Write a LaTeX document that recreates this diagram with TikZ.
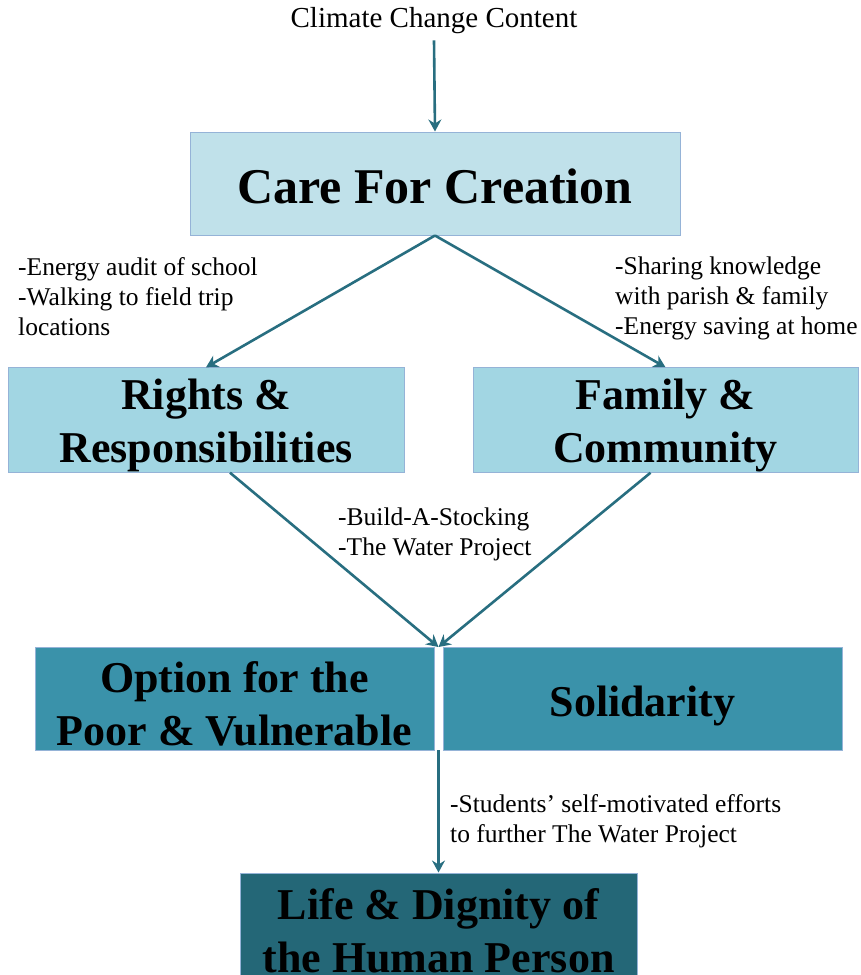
\documentclass[tikz,border=0pt]{standalone}
\usepackage{fontspec}
\setmainfont{Liberation Serif}
\usetikzlibrary{arrows.meta}

\definecolor{flowteal}{RGB}{40,110,128}
\definecolor{boxedge}{RGB}{149,179,215}
\definecolor{carefill}{RGB}{192,225,234}
\definecolor{rightsfill}{RGB}{162,214,227}
\definecolor{optionfill}{RGB}{58,146,170}
\definecolor{lifefill}{RGB}{36,103,119}

\begin{document}
\begin{tikzpicture}[x=1pt,y=-1pt,
    box/.style={draw=boxedge,line width=1pt,minimum width=#1,minimum height=103pt,
      align=center,inner sep=0pt,font=\fontsize{44}{53}\selectfont\bfseries},
    note/.style={anchor=north west,align=left,inner sep=0pt,font=\fontsize{25.5}{30}\selectfont},
    flow/.style={flowteal,line width=2.6pt,-{Stealth[length=12pt,width=13pt,inset=4pt]}}]
    \useasboundingbox (0,0) rectangle (860,975);
    \clip (0,0) rectangle (860,975);

    % Top level
    \node (ccc) at (434,21) [inner sep=0pt,font=\fontsize{29}{32}\selectfont] {Climate Change Content};
    \node (care) at (435,183.5) [box=490pt,text height=40pt,fill=carefill,font=\fontsize{50}{60}\selectfont\bfseries] {Care For Creation};
    \draw[flow] (ccc.south) ++(0,6) -- (care.north);

    % Second level
    \node (rights) at (206,420) [box=396pt,minimum height=104pt,text height=95pt,fill=rightsfill] {Rights \&\\Responsibilities};
    \node (family) at (665.5,420) [box=385pt,minimum height=104pt,text height=95pt,fill=rightsfill] {Family \&\\Community};
    \draw[flow] (care.south) -- (rights.north);
    \draw[flow] (care.south) -- (family.north);
    \node (noteL) at (18,257) [note] {-Energy audit of school\\-Walking to field trip\\locations};
    \node (noteR) at (615,257) [note] {-Sharing knowledge\\with parish \& family\\-Energy saving at home};

    % Third level
    \node (option) at (234.5,698.5) [box=399pt,text height=94pt,fill=optionfill] {Option for the\\Poor \& Vulnerable};
    \node (solid) at (642.5,698.5) [box=399pt,text height=46pt,fill=optionfill] {Solidarity};
    \coordinate (gapT) at (438.5,647);
    \coordinate (gapB) at (438.5,750);
    \draw[flow] ([xshift=24pt]rights.south) -- (gapT);
    \draw[flow] ([xshift=-15pt]family.south) -- (gapT);
    \node (noteM) at (338,508) [note] {-Build-A-Stocking\\-The Water Project};

    % Bottom
    \node (life) at (438.5,931) [box=397pt,minimum height=116pt,fill=lifefill] {Life \& Dignity of\\the Human Person};
    \draw[flow] (gapB) -- (life.north);
    \node (noteB) at (450,794) [note] {-Students’ self-motivated efforts\\to further The Water Project};
\end{tikzpicture}
\end{document}
